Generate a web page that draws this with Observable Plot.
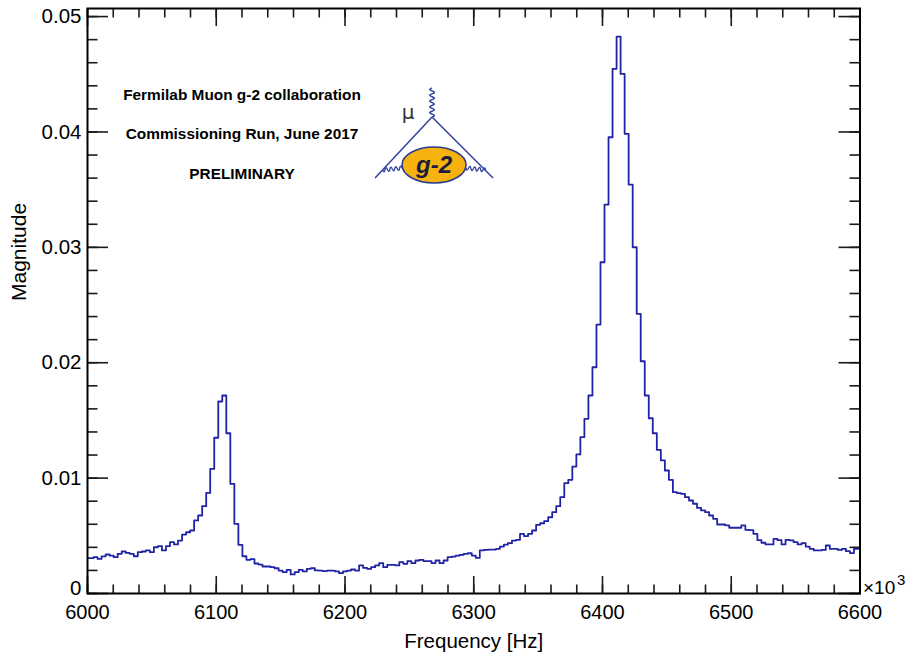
<!DOCTYPE html>
<html>
<head>
<meta charset="utf-8">
<script src="https://cdn.jsdelivr.net/npm/d3@7"></script>
<script src="https://cdn.jsdelivr.net/npm/@observablehq/plot@0.6"></script>
<style>
  html, body { margin: 0; padding: 0; background: #fff; }
  #chart { width: 905px; height: 656px; }
</style>
</head>
<body>
<div id="chart"></div>
<script>
// Magnitude spectrum of the muon precession signal.
// Frequencies are in units of 10^3 Hz; bins are 3.125 wide and centred on multiples of the bin width.
const binStart = 6000;
const binWidth = 3.125;

const magnitude = [
  0.00306, 0.00306, 0.00315, 0.00300, 0.00321, 0.00338, 0.00329, 0.00315, 0.00344, 0.00364,
  0.00352, 0.00344, 0.00323, 0.00358, 0.00364, 0.00373, 0.00358, 0.00401, 0.00410, 0.00373,
  0.00410, 0.00445, 0.00425, 0.00459, 0.00511, 0.00531, 0.00546, 0.00633, 0.00676, 0.00757,
  0.00872, 0.01080, 0.01350, 0.01664, 0.01716, 0.01389, 0.00950, 0.00604, 0.00422, 0.00323,
  0.00292, 0.00298, 0.00260, 0.00251, 0.00234, 0.00234, 0.00228, 0.00219, 0.00199, 0.00185,
  0.00205, 0.00165, 0.00185, 0.00205, 0.00191, 0.00214, 0.00219, 0.00200, 0.00199, 0.00194,
  0.00199, 0.00199, 0.00191, 0.00176, 0.00191, 0.00199, 0.00208, 0.00199, 0.00243, 0.00222,
  0.00214, 0.00228, 0.00243, 0.00263, 0.00228, 0.00248, 0.00248, 0.00243, 0.00272, 0.00257,
  0.00280, 0.00263, 0.00286, 0.00292, 0.00280, 0.00280, 0.00263, 0.00286, 0.00263, 0.00286,
  0.00315, 0.00320, 0.00329, 0.00335, 0.00344, 0.00349, 0.00329, 0.00309, 0.00373, 0.00378,
  0.00381, 0.00381, 0.00387, 0.00407, 0.00424, 0.00436, 0.00459, 0.00465, 0.00517, 0.00497,
  0.00517, 0.00546, 0.00595, 0.00609, 0.00627, 0.00661, 0.00705, 0.00757, 0.00835, 0.00956,
  0.00985, 0.01100, 0.01205, 0.01355, 0.01514, 0.01716, 0.01961, 0.02331, 0.02871, 0.03371,
  0.03954, 0.04547, 0.04827, 0.04503, 0.03984, 0.03544, 0.03001, 0.02424, 0.02013, 0.01716,
  0.01519, 0.01389, 0.01245, 0.01153, 0.01066, 0.00985, 0.00878, 0.00870, 0.00864, 0.00835,
  0.00806, 0.00778, 0.00742, 0.00720, 0.00705, 0.00676, 0.00647, 0.00598, 0.00598, 0.00590,
  0.00570, 0.00570, 0.00570, 0.00590, 0.00552, 0.00550, 0.00517, 0.00462, 0.00440, 0.00425,
  0.00425, 0.00473, 0.00462, 0.00425, 0.00465, 0.00460, 0.00445, 0.00425, 0.00437, 0.00407,
  0.00387, 0.00373, 0.00373, 0.00378, 0.00416, 0.00387, 0.00387, 0.00378, 0.00387, 0.00367,
  0.00350, 0.00387, 0.00396
];

const freqMajorTicks = [6000, 6100, 6200, 6300, 6400, 6500, 6600];
const freqMinorTicks = d3.range(6000, 6600.1, 20);
const magMajorTicks = [0, 0.01, 0.02, 0.03, 0.04, 0.05];
const magTickLabels = ["0", "0.01", "0.02", "0.03", "0.04", "0.05"];
const magMinorTicks = d3.range(0, 0.0501, 0.002);

const noteLines = ["Fermilab Muon g-2 collaboration", "Commissioning Run, June 2017", "PRELIMINARY"];

// Placement of the annotation block and of the g-2 emblem, in data units
const noteFreq = 6120;
const noteMags = [0.04279, 0.03937, 0.03594];
const emblemAnchor = {freq: 6268, mag: 0.04125};

const spectrum = magnitude.map((m, k) => ({freq: binStart + k * binWidth, mag: m}));

const histColor = "#2024a4";
const tickColor = "#1a1a1a";
const font = "'Liberation Sans', Arial, Helvetica, sans-serif";

const tickAxis = (axis, anchor, ticks, size) => axis({
  anchor, ticks, tickSize: -size, tickFormat: () => "", label: null,
  stroke: tickColor, strokeWidth: 1.6
});

const plot = Plot.plot({
  width: 905,
  height: 656,
  marginLeft: 87,
  marginRight: 45.5,
  marginTop: 8,
  marginBottom: 63,
  style: {fontFamily: font, background: "#fff", color: "#000", overflow: "visible"},
  x: {domain: [6000, 6600]},
  y: {domain: [0, 0.0507]},
  marks: [
    Plot.line(spectrum, {x: "freq", y: "mag", curve: "step", stroke: histColor, strokeWidth: 1.8, clip: true}),

    // inward ticks on all four sides
    tickAxis(Plot.axisX, "bottom", freqMinorTicks, 8.5),
    tickAxis(Plot.axisX, "bottom", freqMajorTicks, 17),
    tickAxis(Plot.axisX, "top", freqMinorTicks, 8.5),
    tickAxis(Plot.axisX, "top", freqMajorTicks, 17),
    tickAxis(Plot.axisY, "left", magMinorTicks, 10.5),
    tickAxis(Plot.axisY, "left", magMajorTicks, 21),
    tickAxis(Plot.axisY, "right", magMinorTicks, 11),
    tickAxis(Plot.axisY, "right", magMajorTicks, 22),

    // tick labels; the zero label sits just above the corner so it clears "6000"
    Plot.axisX({anchor: "bottom", ticks: freqMajorTicks, tickSize: 0, tickPadding: 11,
      fontSize: 20, label: null, tickFormat: d => String(d)}),
    Plot.axisY({anchor: "left", ticks: magMajorTicks.slice(1), tickSize: 0, tickPadding: 6,
      fontSize: 20.5, label: null, tickFormat: d => magTickLabels[magMajorTicks.indexOf(d)]}),
    Plot.text([magTickLabels[0]], {x: () => freqMajorTicks[0], y: () => magMajorTicks[0],
      text: d => d, textAnchor: "end", lineAnchor: "middle", dx: -6, dy: -5, fontSize: 20.5, fill: "#000"}),

    Plot.frame({stroke: "#000", strokeWidth: 2}),

    // axis titles and exponent
    Plot.text(["Frequency [Hz]"], {frameAnchor: "bottom", lineAnchor: "bottom", dy: 54, fontSize: 20.5, fill: "#000"}),
    Plot.text(["Magnitude"], {frameAnchor: "left", lineAnchor: "bottom", rotate: -90, dx: -62, fontSize: 21, fill: "#000"}),
    Plot.text(["×10"], {frameAnchor: "bottom-right", textAnchor: "start", lineAnchor: "bottom", dx: 3, dy: 0, fontSize: 19, fill: "#000"}),
    Plot.text(["3"], {frameAnchor: "bottom-right", textAnchor: "start", lineAnchor: "bottom", dx: 37, dy: -9, fontSize: 15, fill: "#000"}),

    // collaboration notes
    Plot.text(noteLines, {x: () => noteFreq, y: (d, i) => noteMags[i], text: d => d,
      lineAnchor: "bottom", textAnchor: "middle", fontSize: 15.4, fontWeight: "bold", fill: "#000"})
  ]
});

document.getElementById("chart").appendChild(plot);

// g-2 emblem: muon vertex with a photon leg and the anomaly bubble
const sx = plot.scale("x"), sy = plot.scale("y");
const ex = sx.apply(emblemAnchor.freq), ey = sy.apply(emblemAnchor.mag);
const emblem = d3.select(plot).append("g").attr("transform", `translate(${ex},${ey})`);
const legBlue = "#33429e";

function coil(x0, y0, x1, y1, turns, amp) {
  const dx = x1 - x0, dy = y1 - y0, len = Math.hypot(dx, dy);
  const nx = -dy / len, ny = dx / len;
  const pts = [];
  const n = turns * 8;
  for (let i = 0; i <= n; i++) {
    const t = i / n;
    const s = Math.sin(t * turns * 2 * Math.PI) * amp;
    pts.push([x0 + dx * t + nx * s, y0 + dy * t + ny * s]);
  }
  return d3.line().curve(d3.curveBasis)(pts);
}

emblem.append("path").attr("d", coil(0, 0, 0, -29, 5, 2.6))
  .attr("fill", "none").attr("stroke", legBlue).attr("stroke-width", 1.4);
emblem.append("line").attr("x1", 0).attr("y1", 0).attr("x2", -57).attr("y2", 61)
  .attr("stroke", legBlue).attr("stroke-width", 1.5);
emblem.append("line").attr("x1", 0).attr("y1", 0).attr("x2", 61).attr("y2", 61)
  .attr("stroke", legBlue).attr("stroke-width", 1.5);
emblem.append("path").attr("d", coil(-49.5, 53, -30, 51, 4, 2.2))
  .attr("fill", "none").attr("stroke", legBlue).attr("stroke-width", 1.3);
emblem.append("path").attr("d", coil(34, 51, 53.5, 53, 4, 2.2))
  .attr("fill", "none").attr("stroke", legBlue).attr("stroke-width", 1.3);
emblem.append("ellipse").attr("cx", 2).attr("cy", 48).attr("rx", 32).attr("ry", 18)
  .attr("fill", "#f6b30f").attr("stroke", "#2d3c8e").attr("stroke-width", 1.6);
emblem.append("text").attr("x", 2).attr("y", 56).attr("text-anchor", "middle")
  .attr("font-family", font).attr("font-size", 24).attr("font-weight", "bold")
  .attr("font-style", "italic").attr("fill", "#1c1c3c").text("g-2");
emblem.append("text").attr("x", -24).attr("y", 2).attr("text-anchor", "middle")
  .attr("font-family", "'DejaVu Sans', sans-serif").attr("font-size", 20)
  .attr("fill", "#333").text("μ");
</script>
</body>
</html>
